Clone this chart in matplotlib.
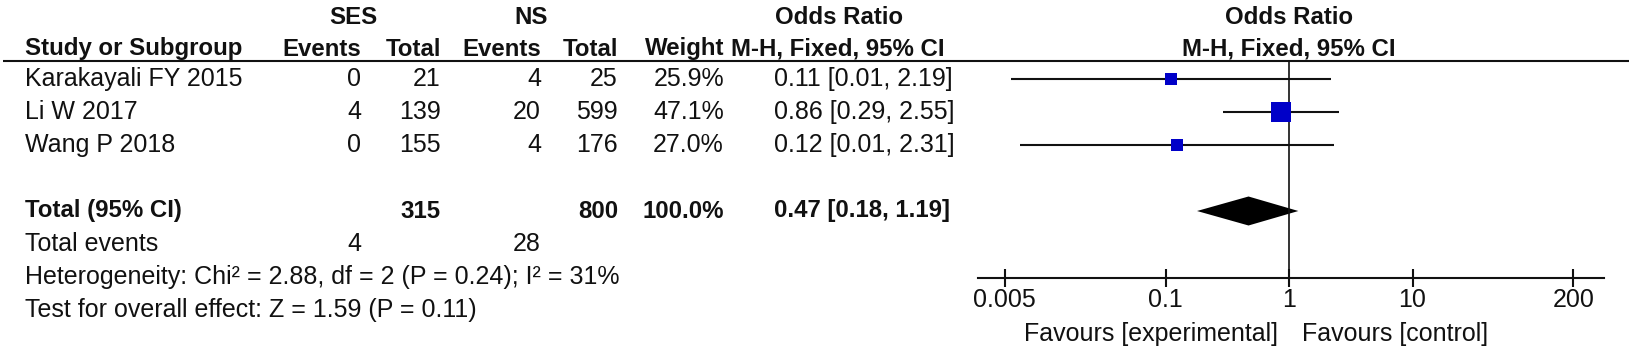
import matplotlib
matplotlib.use("Agg")
import matplotlib.pyplot as plt
from matplotlib.ticker import NullLocator

"""
Forest plot (RevMan style): SES vs NS, odds ratio, M-H fixed effect
"""

# ---- data ----
studies = ["Karakayali FY 2015", "Li W 2017", "Wang P 2018"]
ses_events = [0, 4, 0]
ses_total = [21, 139, 155]
ns_events = [4, 20, 4]
ns_total = [25, 599, 176]
weights = [25.9, 47.1, 27.0]
odds = [0.111, 0.86, 0.123]
ci_low = [0.0056, 0.29, 0.0066]
ci_high = [2.19, 2.55, 2.31]

total_or = 0.47
total_low = 0.18
total_high = 1.19

heterogeneity = "Heterogeneity: Chi\u00b2 = 2.88, df = 2 (P = 0.24); I\u00b2 = 31%"
overall = "Test for overall effect: Z = 1.59 (P = 0.11)"

tick_vals = [0.005, 0.1, 1, 10, 200]
tick_labels = ["0.005", "0.1", "1", "10", "200"]

# ---- layout (pixels, y going down) ----
W, H = 1629, 353
FS = 18.0      # regular text
FSB = 17.3     # bold text
INK = "#111111"
BLUE = "#0000c8"

plt.rcParams["font.family"] = ["Liberation Sans", "DejaVu Sans"]
plt.rcParams["font.size"] = FS

row0, pitch = 79, 33
rows = [row0 + pitch * i for i in range(len(studies))]
y_total = row0 + pitch * 4
y_events = y_total + pitch
y_het = y_events + pitch
y_test = y_het + pitch
y_head1, y_head2 = 17, 49
rule_y = 61
axis_y = 278

# right edges of the number columns, left edge of OR text
x_name = 25
x_ses_ev, x_ses_tot = 361, 441
x_ns_ev, x_ns_tot = 541, 618
x_weight = 724
x_or = 774

fig = plt.figure(figsize=(W / 100, H / 100), dpi=100)
ax = fig.add_axes([0, 0, 1, 1])
ax.set_xlim(0, W)
ax.set_ylim(H, 0)
ax.axis("off")


def txt(x, y, s, ha="left", bold=False):
    ax.text(x, y, s, ha=ha, va="center", color=INK,
            fontweight="bold" if bold else "normal",
            fontsize=FSB if bold else FS)


# headers
txt(353, y_head1, "SES", "center", True)
txt(531, y_head1, "NS", "center", True)
txt(839, y_head1, "Odds Ratio", "center", True)
txt(x_name, y_head2, "Study or Subgroup", bold=True)
txt(x_ses_ev, y_head2, "Events", "right", True)
txt(x_ses_tot, y_head2, "Total", "right", True)
txt(x_ns_ev, y_head2, "Events", "right", True)
txt(x_ns_tot, y_head2, "Total", "right", True)
txt(x_weight, y_head2, "Weight", "right", True)
txt(731, y_head2, "M-H, Fixed, 95% CI", bold=True)
ax.plot([3, W], [rule_y, rule_y], color=INK, lw=1.5, solid_capstyle="butt")

# study rows
for i, name in enumerate(studies):
    y = rows[i]
    txt(x_name, y, name)
    txt(x_ses_ev, y, str(ses_events[i]), "right")
    txt(x_ses_tot, y, str(ses_total[i]), "right")
    txt(x_ns_ev, y, str(ns_events[i]), "right")
    txt(x_ns_tot, y, str(ns_total[i]), "right")
    txt(x_weight, y, f"{weights[i]:.1f}%", "right")
    txt(x_or, y, f"{odds[i]:.2f} [{ci_low[i]:.2f}, {ci_high[i]:.2f}]")

# totals
txt(x_name, y_total, "Total (95% CI)", bold=True)
txt(x_ses_tot, y_total, str(sum(ses_total)), "right", True)
txt(x_ns_tot, y_total, str(sum(ns_total)), "right", True)
txt(x_weight, y_total, f"{sum(weights):.1f}%", "right", True)
txt(x_or, y_total, f"{total_or:.2f} [{total_low:.2f}, {total_high:.2f}]", bold=True)
txt(x_name, y_events, "Total events")
txt(x_ses_ev, y_events, str(sum(ses_events)), "right")
txt(x_ns_ev, y_events, str(sum(ns_events)), "right")
txt(x_name, y_het, heterogeneity)
txt(x_name, y_test, overall)

# ---- forest panel: log x, same pixel rows for y ----
ax2 = fig.add_axes([978 / W, (H - axis_y) / H, (1604 - 978) / W, (axis_y - rule_y) / H])
ax2.set_xscale("log")
ax2.set_xlim(10 ** -2.518, 10 ** 2.55)
ax2.set_ylim(axis_y, rule_y)
ax2.patch.set_alpha(0)
for s in ["top", "right", "left"]:
    ax2.spines[s].set_visible(False)
ax2.spines["bottom"].set_linewidth(1.5)
ax2.spines["bottom"].set_color(INK)
ax2.set_yticks([])
ax2.set_xticks(tick_vals)
ax2.set_xticklabels(tick_labels)
ax2.xaxis.set_minor_locator(NullLocator())
ax2.tick_params(axis="x", direction="inout", length=13, width=1.5,
                color=INK, labelcolor=INK, labelsize=FS, pad=1)

ax2.axvline(1, color=INK, lw=1.2)

for i in range(len(studies)):
    y = rows[i]
    ax2.plot([ci_low[i], ci_high[i]], [y, y], color=INK, lw=1.5, solid_capstyle="butt")
    side = 0.43 * weights[i] * 0.72
    ax2.plot(odds[i], y, marker="s", ms=side, color=BLUE, mec=BLUE, mew=0)

half_h = 14.5
ax2.fill([total_low, total_or, total_high, total_or],
         [y_total, y_total - half_h, y_total, y_total + half_h],
         color="black", lw=0)

ax2.text(1, y_head1, "Odds Ratio", ha="center", va="center",
         fontweight="bold", fontsize=FSB, color=INK, clip_on=False)
ax2.text(1, y_head2, "M-H, Fixed, 95% CI", ha="center", va="center",
         fontweight="bold", fontsize=FSB, color=INK, clip_on=False)
ax2.annotate("Favours [experimental]", xy=(1, 334), xytext=(-11, 0),
             textcoords="offset pixels", ha="right", va="center",
             color=INK, annotation_clip=False)
ax2.annotate("Favours [control]", xy=(1, 334), xytext=(13, 0),
             textcoords="offset pixels", ha="left", va="center",
             color=INK, annotation_clip=False)

plt.savefig("out.png", dpi=100)
